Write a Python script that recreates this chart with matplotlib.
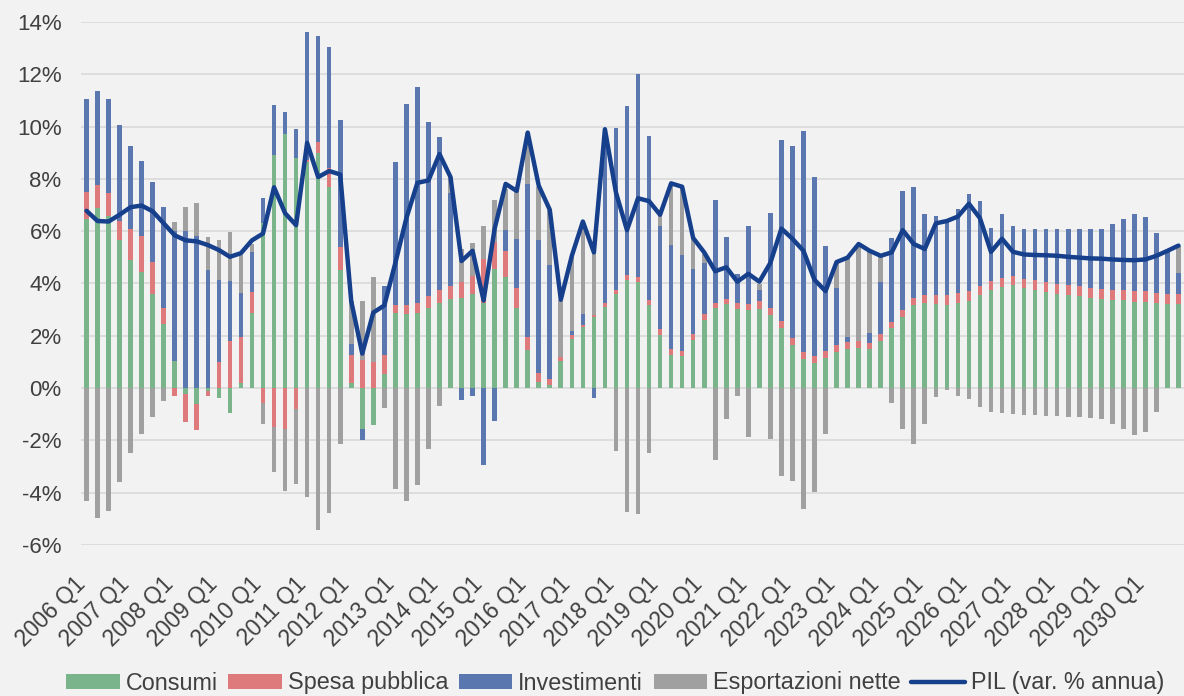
import numpy as np
import matplotlib
matplotlib.use("Agg")
import matplotlib.pyplot as plt

plt.rcParams['font.family'] = ['Liberation Sans', 'DejaVu Sans']

years = list(range(2006, 2031))
quarters = [f"{y} Q{q}" for y in years for q in range(1, 5)]

consumi = [6.47, 6.89, 6.60, 5.67, 4.90, 4.43, 3.61, 2.46, 1.02, -0.22,
           -0.62, -0.12, -0.38, -0.94, 0.18, 2.88, 6.30, 8.92, 9.73, 8.79,
           8.66, 8.98, 7.70, 4.53, 0.18, -1.56, -1.43, 0.54, 2.87, 2.83,
           2.89, 3.06, 3.26, 3.39, 3.46, 3.61, 3.25, 4.57, 4.24, 3.05,
           1.45, 0.24, 0.10, 1.02, 1.87, 2.33, 2.72, 3.12, 3.61, 4.14,
           4.07, 3.18, 2.04, 1.28, 1.22, 1.85, 2.61, 3.06, 3.20, 3.01,
           2.99, 3.03, 2.80, 2.31, 1.65, 1.13, 0.97, 1.17, 1.39, 1.49,
           1.55, 1.49, 1.81, 2.28, 2.72, 3.16, 3.26, 3.22, 3.16, 3.25,
           3.33, 3.55, 3.75, 3.85, 3.94, 3.81, 3.75, 3.68, 3.61, 3.55,
           3.51, 3.46, 3.41, 3.38, 3.35, 3.31, 3.29, 3.26, 3.22, 3.20]

spesa = [1.01, 0.88, 0.85, 0.73, 1.20, 1.39, 1.20, 0.60, -0.30, -1.07,
         -0.97, -0.17, 1.00, 1.81, 1.76, 0.79, -0.58, -1.49, -1.56, -0.81,
         0.05, 0.45, 0.72, 0.85, 1.07, 1.09, 1.00, 0.72, 0.31, 0.33,
         0.35, 0.46, 0.48, 0.52, 0.59, 0.69, 1.68, 1.01, 1.01, 0.76,
         0.52, 0.34, 0.24, 0.17, 0.17, 0.10, 0.08, 0.13, 0.16, 0.20,
         0.17, 0.20, 0.22, 0.21, 0.20, 0.20, 0.22, 0.20, 0.21, 0.24,
         0.24, 0.29, 0.26, 0.26, 0.26, 0.26, 0.25, 0.25, 0.26, 0.26,
         0.24, 0.22, 0.24, 0.25, 0.26, 0.30, 0.31, 0.35, 0.39, 0.39,
         0.39, 0.37, 0.33, 0.35, 0.33, 0.35, 0.37, 0.37, 0.37, 0.39,
         0.39, 0.38, 0.39, 0.39, 0.39, 0.41, 0.41, 0.39, 0.39, 0.39]

investimenti = [3.58, 3.61, 3.59, 3.68, 3.14, 2.87, 3.08, 3.86, 4.98, 6.00,
                5.82, 4.53, 3.14, 2.27, 1.70, 1.52, 0.98, 1.90, 0.83, 1.11,
                4.89, 4.05, 4.62, 4.89, 0.42, -0.42, 0.00, 2.66, 5.45, 7.69,
                8.29, 6.67, 5.85, 3.56, -0.45, -0.31, -2.93, -1.27, 0.79, 1.90,
                5.83, 5.07, 4.35, 0.00, 0.13, 0.39, -0.38, 6.65, 6.16, 6.46,
                7.78, 6.26, 3.94, 3.98, 3.67, 2.49, 1.96, 3.93, 2.38, 1.13,
                2.95, 0.43, 3.63, 6.90, 7.33, 8.45, 6.85, 4.01, 2.16, 0.22,
                0.00, 0.39, 1.99, 3.21, 4.56, 4.22, 3.08, 3.03, 2.82, 3.21,
                3.69, 3.22, 2.06, 2.46, 1.91, 1.93, 1.98, 2.04, 2.11, 2.13,
                2.17, 2.23, 2.28, 2.49, 2.72, 2.95, 2.86, 2.28, 1.64, 0.81]

esportazioni = [-4.31, -4.96, -4.70, -3.59, -2.50, -1.76, -1.10, -0.51, 0.34, 0.94,
                1.27, 1.23, 1.51, 1.90, 1.44, 0.33, -0.81, -1.70, -2.36, -2.87,
                -4.18, -5.42, -4.77, -2.15, 1.65, 2.24, 3.25, -0.77, -3.85, -4.31,
                -3.72, -2.31, -0.67, 0.60, 1.26, 1.24, 1.28, 1.61, 1.57, 1.90,
                1.97, 2.03, 2.13, 2.16, 2.88, 3.54, 2.77, 0.00, -2.41, -4.74,
                -4.83, -2.50, 0.42, 2.36, 2.59, 1.18, 0.33, -2.76, -1.19, -0.29,
                -1.86, 0.24, -1.93, -3.37, -3.55, -4.64, -3.98, -1.76, 0.98, 3.01,
                3.73, 3.14, 1.02, -0.58, -1.56, -2.15, -1.36, -0.34, -0.09, -0.31,
                -0.42, -0.73, -0.90, -0.97, -1.00, -1.01, -1.03, -1.06, -1.07, -1.10,
                -1.10, -1.13, -1.17, -1.36, -1.58, -1.78, -1.69, -0.93, 0.00, 1.02]

pil = [6.78, 6.39, 6.37, 6.63, 6.92, 6.98, 6.76, 6.30, 5.84, 5.65,
       5.61, 5.47, 5.28, 5.02, 5.16, 5.65, 5.91, 7.68, 6.69, 6.23,
       9.38, 8.07, 8.30, 8.17, 3.32, 1.32, 2.89, 3.16, 4.79, 6.50,
       7.85, 7.94, 8.95, 8.07, 4.86, 5.25, 3.35, 6.10, 7.81, 7.54,
       9.77, 7.74, 6.82, 3.38, 5.06, 6.37, 5.19, 9.90, 7.48, 6.04,
       7.26, 7.15, 6.63, 7.83, 7.70, 5.74, 5.19, 4.47, 4.62, 4.07,
       4.37, 4.07, 4.79, 6.10, 5.71, 5.25, 4.14, 3.71, 4.82, 4.99,
       5.51, 5.25, 5.06, 5.19, 6.04, 5.51, 5.32, 6.30, 6.39, 6.56,
       7.05, 6.50, 5.21, 5.71, 5.21, 5.11, 5.09, 5.08, 5.06, 5.02,
       4.99, 4.96, 4.95, 4.92, 4.90, 4.89, 4.92, 5.06, 5.25, 5.45]

series = [("Consumi", consumi, "#79B48B"),
          ("Spesa pubblica", spesa, "#DF7A7C"),
          ("Investimenti", investimenti, "#5A77B0"),
          ("Esportazioni nette", esportazioni, "#A0A0A0")]

bg = "#F2F2F2"
txt = "#404040"
fig = plt.figure(figsize=(11.84, 6.96), dpi=100, facecolor=bg)
ax = fig.add_axes([81/1184, 1 - 545/696, 1 - 81/1184, (545 - 22)/696])
ax.set_facecolor(bg)

x = np.arange(len(quarters))
pos = np.zeros(len(x))
neg = np.zeros(len(x))
for name, vals, col in series:
    v = np.array(vals, dtype=float)
    bottom = np.where(v >= 0, pos, neg)
    ax.bar(x, v, width=0.42, bottom=bottom, color=col, label=name, zorder=2, linewidth=0)
    pos = pos + np.where(v > 0, v, 0)
    neg = neg + np.where(v < 0, v, 0)

ax.plot(x, pil, color="#163F8C", lw=3.2, label="PIL (var. % annua)", zorder=3,
        solid_joinstyle="round", solid_capstyle="round")

ax.set_xlim(-0.5, len(x) - 0.5)
ax.set_ylim(-6, 14)
ax.set_yticks(np.arange(-6, 15, 2))
ax.set_yticklabels([f"{v}%" for v in range(-6, 15, 2)])
ax.yaxis.grid(True, color="#D9D9D9", lw=1.2, zorder=0)
ax.set_axisbelow(True)
for s in ax.spines.values():
    s.set_visible(False)

ax.set_xticks(x[::4] + 0.3)
ax.set_xticklabels(quarters[::4], rotation=45, ha="right", rotation_mode="default")
ax.tick_params(axis="x", length=0, pad=20, labelsize=16.5, labelcolor=txt)
ax.tick_params(axis="y", length=0, pad=14, labelsize=16, labelcolor=txt)

h, l = ax.get_legend_handles_labels()
order = [1, 2, 3, 4, 0]
leg = fig.legend([h[i] for i in order], [l[i] for i in order], loc="center",
                 bbox_to_anchor=(615/1184, 1 - 683/696), ncol=5, frameon=False,
                 fontsize=16.8, handlelength=2.3, handleheight=0.65, handletextpad=0.25,
                 columnspacing=0.45, borderaxespad=0)
for t in leg.get_texts():
    t.set_color(txt)

fig.savefig("out.png", dpi=100, facecolor=bg)
